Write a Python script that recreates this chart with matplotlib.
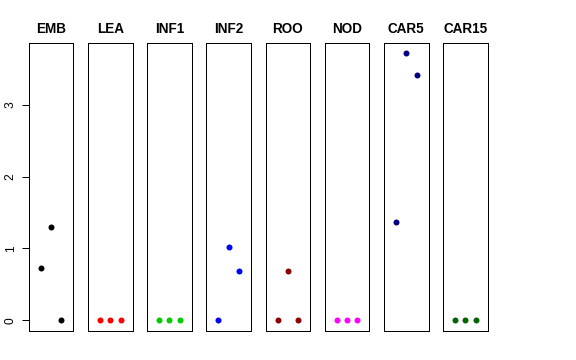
import matplotlib
matplotlib.use("Agg")
import matplotlib.pyplot as plt

plt.rcParams['font.family'] = ['Liberation Sans', 'DejaVu Sans']

categories = ["EMB", "LEA", "INF1", "INF2", "ROO", "NOD", "CAR5", "CAR15"]
x_pos = [1, 2, 3]
values = {
    "EMB":   [0.73, 1.30, 0.0],
    "LEA":   [0.0, 0.0, 0.0],
    "INF1":  [0.0, 0.0, 0.0],
    "INF2":  [0.0, 1.02, 0.69],
    "ROO":   [0.0, 0.69, 0.0],
    "NOD":   [0.0, 0.0, 0.0],
    "CAR5":  [1.37, 3.72, 3.42],
    "CAR15": [0.0, 0.0, 0.0],
}
colors = ["#000000", "#FF0000", "#00CD00", "#0000FF", "#8B0000", "#FF00FF", "#000080", "#006400"]
y_ticks = [0, 1, 2, 3]

W, H = 576, 360
fig = plt.figure(figsize=(W / 72, H / 72), dpi=72)

left0 = 28.7
pw = 44.7
step = 59.2
top = 43
bottom = 331

for i, cat in enumerate(categories):
    l = left0 + i * step
    ax = fig.add_axes([l / W, 1 - bottom / H, pw / W, (bottom - top) / H])
    ax.scatter(x_pos, values[cat], s=36, color=colors[i], zorder=3, linewidths=0)
    ax.set_xlim(-0.16, 4.16)
    ax.set_ylim(-0.15, 3.86)
    ax.set_xticks([])
    for sp in ax.spines.values():
        sp.set_linewidth(1)
        sp.set_color("black")
    ax.set_title(cat, fontsize=13.5, fontweight="bold", pad=9.5)
    if i == 0:
        ax.set_yticks(y_ticks)
        ax.set_yticklabels([str(t) for t in y_ticks], rotation=90, va="center", fontsize=12)
        ax.tick_params(axis="y", length=7, width=1, pad=5)
    else:
        ax.set_yticks([])

fig.savefig("out.png", dpi=72)
